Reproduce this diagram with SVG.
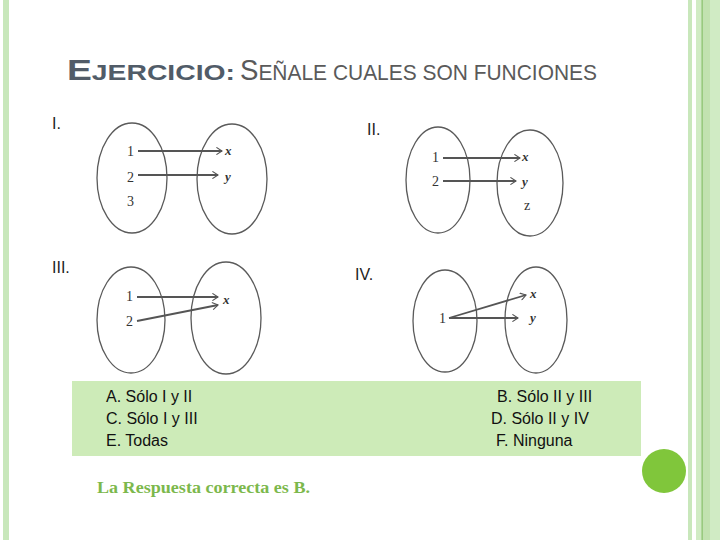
<svg xmlns="http://www.w3.org/2000/svg" width="720" height="540" viewBox="0 0 720 540">
<style>
.ell{fill:none;stroke:#5a5a5a;stroke-width:1.3}
.arr{fill:none;stroke:#555;stroke-width:1.8;marker-end:url(#ah)}
.num{font-family:"Liberation Serif",serif;font-size:14px;fill:#333}
.var{font-family:"Liberation Serif",serif;font-size:13px;font-style:italic;font-weight:bold;fill:#333}
.rom{font-family:"Liberation Sans",Arial,sans-serif;font-size:16px;fill:#222}
.opt{font-family:"Liberation Sans",Arial,sans-serif;font-size:16px;fill:#111}
.tt{font-family:"Liberation Sans",Arial,sans-serif}
</style>
<defs>
<marker id="ah" viewBox="0 0 10 10" refX="9" refY="5" markerWidth="8" markerHeight="8" markerUnits="userSpaceOnUse" orient="auto">
<polyline points="2,0.5 9,5 2,9.5" fill="none" stroke="#555" stroke-width="1.4"/>
</marker>
</defs>
<rect width="720" height="540" fill="#ffffff"/>
<g id="frame">
<rect x="3" y="0" width="6" height="540" fill="#c8e7bb"/>
<rect x="688" y="0" width="4" height="540" fill="#c8e7bb"/>
<rect x="696" y="0" width="24" height="540" fill="#d0ebc4"/>
<rect x="703" y="0" width="7" height="540" fill="#c2e2b0"/>
<rect x="701.5" y="0" width="1.3" height="540" fill="#8cc26e"/>
<circle cx="664" cy="471" r="22" fill="#80c63b"/>
</g>
<g id="title">
<text class="tt" x="67" y="80" fill="#515c68" font-weight="bold" textLength="168" lengthAdjust="spacingAndGlyphs"><tspan font-size="29">E</tspan><tspan font-size="22">JERCICIO:</tspan></text>
<text class="tt" x="240" y="80" fill="#5a5a5a" textLength="357" lengthAdjust="spacingAndGlyphs"><tspan font-size="29">S</tspan><tspan font-size="22">EÑALE CUALES SON FUNCIONES</tspan></text>
</g>
<g id="labels">
<text class="rom" x="52" y="129">I.</text>
<text class="rom" x="367" y="135">II.</text>
<text class="rom" x="52" y="273">III.</text>
<text class="rom" x="355" y="280">IV.</text>
</g>
<g id="diagram-I">
<ellipse class="ell" cx="132" cy="178" rx="35" ry="55"/>
<ellipse class="ell" cx="232" cy="179" rx="35" ry="55"/>
<text class="num" x="127" y="156">1</text>
<text class="num" x="127" y="182">2</text>
<text class="num" x="127" y="206">3</text>
<text class="var" x="225" y="155">x</text>
<text class="var" x="225" y="181">y</text>
</g>
<g id="diagram-II">
<ellipse class="ell" cx="438" cy="180" rx="32" ry="53"/>
<ellipse class="ell" cx="530" cy="183" rx="33" ry="53"/>
<text class="num" x="432" y="162">1</text>
<text class="num" x="432" y="186">2</text>
<text class="var" x="522" y="161">x</text>
<text class="var" x="522" y="186">y</text>
<text class="num" x="524" y="210" font-size="11">z</text>
</g>
<g id="diagram-III">
<ellipse class="ell" cx="131" cy="320" rx="34" ry="53"/>
<ellipse class="ell" cx="226" cy="318" rx="35" ry="56"/>
<text class="num" x="126" y="301">1</text>
<text class="num" x="126" y="326">2</text>
<text class="var" x="223" y="304">x</text>
</g>
<g id="diagram-IV">
<ellipse class="ell" cx="445" cy="321" rx="32" ry="51"/>
<ellipse class="ell" cx="536" cy="320" rx="31" ry="53"/>
<text class="num" x="439" y="323">1</text>
<text class="var" x="530" y="298">x</text>
<text class="var" x="530" y="322">y</text>
</g>
<g id="connectors">
<line class="arr" x1="138" y1="151" x2="222" y2="151"/>
<line class="arr" x1="138" y1="175" x2="218" y2="175"/>
<line class="arr" x1="443" y1="158" x2="520" y2="158"/>
<line class="arr" x1="443" y1="181" x2="516" y2="181"/>
<line class="arr" x1="137" y1="297" x2="218" y2="297"/>
<line class="arr" x1="137" y1="321" x2="218" y2="305"/>
<line class="arr" x1="449" y1="318" x2="526" y2="295"/>
<line class="arr" x1="449" y1="318" x2="518" y2="318"/>
</g>
<g id="answers">
<rect x="72" y="381" width="569" height="75" fill="#cdebb8"/>
<text class="opt" x="106" y="402">A.  Sólo I y II</text>
<text class="opt" x="106" y="424">C.  Sólo I y III</text>
<text class="opt" x="106" y="446">E.  Todas</text>
<text class="opt" x="497" y="402">B. Sólo II y III</text>
<text class="opt" x="491" y="424">D. Sólo II y IV</text>
<text class="opt" x="496" y="446">F. Ninguna</text>
</g>
<text x="97" y="493" font-family="Liberation Serif,serif" font-size="17.5" font-weight="bold" fill="#7cb84c" textLength="213" lengthAdjust="spacingAndGlyphs">La Respuesta correcta es B.</text>
</svg>
